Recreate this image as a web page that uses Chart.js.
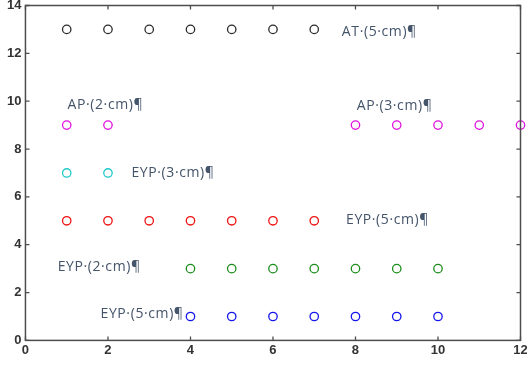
<!DOCTYPE html>
<html>
<head>
<meta charset="utf-8">
<script src="https://cdn.jsdelivr.net/npm/chart.js@4"></script>
<style>
  html, body { margin: 0; padding: 0; background: #fff; }
  #wrap { width: 527px; height: 367px; }
</style>
</head>
<body>
<div id="wrap"><canvas id="plot"></canvas></div>
<script>
// Marker rows: x positions and the level each row sits on
const atX = [1, 2, 3, 4, 5, 6, 7];          const atY = 13;
const apX = [1, 2, 8, 9, 10, 11, 12];       const apY = 9;
const eyp3X = [1, 2];                       const eyp3Y = 7;
const eyp5aX = [1, 2, 3, 4, 5, 6, 7];       const eyp5aY = 5;
const eyp2X = [4, 5, 6, 7, 8, 9, 10];       const eyp2Y = 3;
const eyp5bX = [4, 5, 6, 7, 8, 9, 10];      const eyp5bY = 1;

const xTicks = [0, 2, 4, 6, 8, 10, 12];
const yTicks = [0, 2, 4, 6, 8, 10, 12, 14];

// Text notes: [label, x, y]
const notes = [
  ['AT·(5·cm)¶', 7.67, 12.9],
  ['AP·(2·cm)¶', 1.02, 9.85],
  ['AP·(3·cm)¶', 8.03, 9.8],
  ['EYP·(3·cm)¶', 2.57, 7.0],
  ['EYP·(5·cm)¶', 7.77, 5.03],
  ['EYP·(2·cm)¶', 0.78, 3.06],
  ['EYP·(5·cm)¶', 1.82, 1.09]
];

const rows = [
  { x: atX, y: atY, color: '#2a2a2a' },
  { x: apX, y: apY, color: '#dd11dd' },
  { x: eyp3X, y: eyp3Y, color: '#22c8c8' },
  { x: eyp5aX, y: eyp5aY, color: '#ee1111' },
  { x: eyp2X, y: eyp2Y, color: '#1a8c1a' },
  { x: eyp5bX, y: eyp5bY, color: '#1515ee' }
];

// box with inward ticks on all four sides, plus the text notes
const frame = {
  id: 'frame',
  afterDatasetsDraw(chart) {
    const { ctx, chartArea: a, scales: { x, y } } = chart;
    ctx.save();
    ctx.strokeStyle = '#4d4d4d';
    ctx.lineWidth = 1.5;
    ctx.strokeRect(a.left, a.top, a.right - a.left, a.bottom - a.top);
    ctx.lineWidth = 1.3;
    ctx.beginPath();
    xTicks.forEach(v => {
      const px = x.getPixelForValue(v);
      ctx.moveTo(px, a.bottom); ctx.lineTo(px, a.bottom - 4);
      ctx.moveTo(px, a.top); ctx.lineTo(px, a.top + 4);
    });
    yTicks.forEach(v => {
      const py = y.getPixelForValue(v);
      ctx.moveTo(a.left, py); ctx.lineTo(a.left + 4, py);
      ctx.moveTo(a.right, py); ctx.lineTo(a.right - 4, py);
    });
    ctx.stroke();

    ctx.fillStyle = '#44546a';
    ctx.font = '14px "Open Sans", Lato, sans-serif';
    ctx.letterSpacing = '0.6px';
    ctx.textBaseline = 'middle';
    ctx.textAlign = 'left';
    notes.forEach(([t, vx, vy]) => {
      ctx.fillText(t, x.getPixelForValue(vx), y.getPixelForValue(vy));
    });
    ctx.restore();
  }
};

const tickFont = { family: 'Arial, "Liberation Sans", sans-serif', size: 13, weight: 'bold' };

// let the end tick labels hang past the plot box instead of shrinking it
const noEdgePad = s => {
  s.paddingTop = 0; s.paddingBottom = 0;
  s.paddingLeft = 0; s.paddingRight = 0;
};

new Chart(document.getElementById('plot'), {
  type: 'scatter',
  data: {
    datasets: rows.map(r => ({
      data: r.x.map(v => ({ x: v, y: r.y })),
      pointStyle: 'circle',
      pointRadius: 4.2,
      pointBorderWidth: 1.3,
      pointBorderColor: r.color,
      pointBackgroundColor: 'rgba(0,0,0,0)',
      clip: false
    }))
  },
  options: {
    responsive: true,
    maintainAspectRatio: false,
    animation: false,
    layout: { padding: { top: 5, right: 6.5, left: 3, bottom: 7 } },
    plugins: { legend: { display: false }, tooltip: { enabled: false } },
    scales: {
      x: {
        type: 'linear', min: 0, max: 12,
        grid: { display: false, drawTicks: false, tickLength: 0 },
        border: { display: false },
        afterBuildTicks: s => { s.ticks = xTicks.map(v => ({ value: v })); },
        afterFit: noEdgePad,
        ticks: { padding: 2, color: '#333', font: tickFont }
      },
      y: {
        type: 'linear', min: 0, max: 14,
        grid: { display: false, drawTicks: false, tickLength: 0 },
        border: { display: false },
        afterBuildTicks: s => { s.ticks = yTicks.map(v => ({ value: v })); },
        afterFit: noEdgePad,
        ticks: { padding: 4, color: '#333', font: tickFont }
      }
    }
  },
  plugins: [frame]
});
</script>
</body>
</html>
